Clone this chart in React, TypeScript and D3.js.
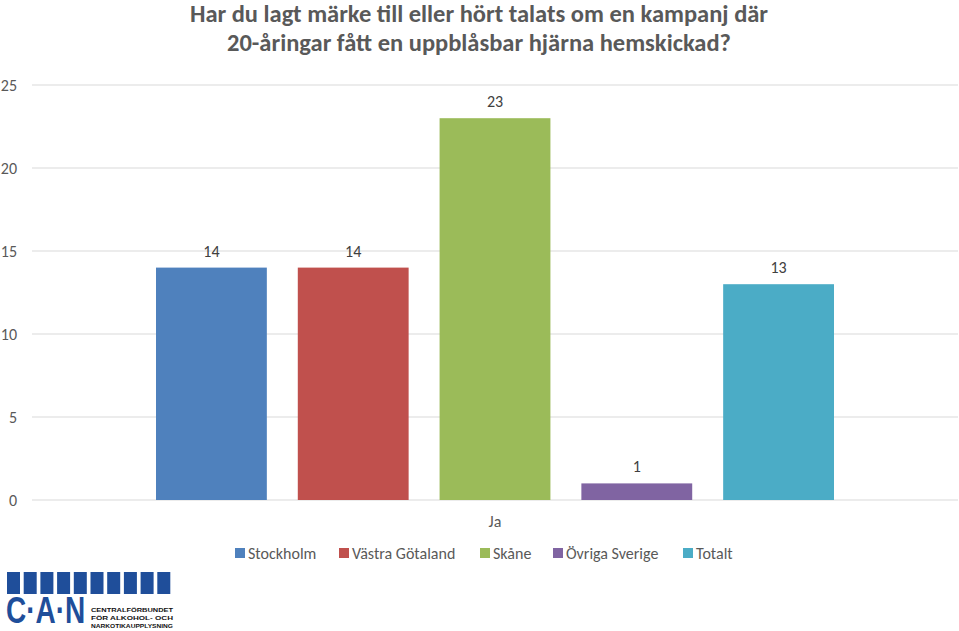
import React from "react";
import * as d3 from "d3";

const categories = ["Ja"];
const seriesNames = ["Stockholm", "Västra Götaland", "Skåne", "Övriga Sverige", "Totalt"];
const seriesValues = [14, 14, 23, 1, 13];
const seriesColors = ["#4f81bd", "#c0504d", "#9bbb59", "#8064a2", "#4bacc6"];
const yTicks = [0, 5, 10, 15, 20, 25];
const titleLines = [
  "Har du lagt märke till eller hört talats om en kampanj där",
  "20-åringar fått en uppblåsbar hjärna hemskickad?",
];
const logoLines = ["CENTRALFÖRBUNDET", "FÖR ALKOHOL- OCH", "NARKOTIKAUPPLYSNING"];

const W = 959;
const H = 631;
const font = "Carlito, Calibri, Lato, 'Open Sans', sans-serif";
const logoFont = "'Liberation Sans', Arial, sans-serif";

export default function App() {
  const x0 = d3.scaleBand().domain(categories).range([32, 958]);
  const inner = d3
    .scaleBand()
    .domain(seriesNames)
    .range([156, 834])
    .paddingInner(31 / 142)
    .paddingOuter(0);
  const y = d3.scaleLinear().domain([0, 25]).range([500, 85]);
  const legendStarts = [235, 339, 480, 553, 683];

  return (
    <svg width={W} height={H} style={{ position: "absolute", left: 0, top: 0, fontFamily: font }}>
      <rect width={W} height={H} fill="#fff" />
      {titleLines.map((t, i) => (
        <text key={i} x={479} y={22 + i * 29} textAnchor="middle" fontSize={24.5} fontWeight="bold" fill="#595959">
          {t}
        </text>
      ))}
      {yTicks.map((t) => (
        <g key={t}>
          <line x1={32} x2={958} y1={y(t)} y2={y(t)} stroke="#d9d9d9" strokeWidth={1} />
          <text x={17} y={y(t) + 6} textAnchor="end" fontSize={16} fill="#595959">
            {t}
          </text>
        </g>
      ))}
      {categories.map((c) => (
        <g key={c}>
          {seriesNames.map((s, i) => {
            const xx = inner(s) as number;
            const bw = inner.bandwidth();
            const v = seriesValues[i];
            return (
              <g key={s}>
                <rect x={xx} y={y(v)} width={bw} height={y(0) - y(v)} fill={seriesColors[i]} />
                <text x={xx + bw / 2} y={y(v) - 11} textAnchor="middle" fontSize={16} fill="#404040">
                  {v}
                </text>
              </g>
            );
          })}
          <text x={(x0(c) as number) + x0.bandwidth() / 2} y={527} textAnchor="middle" fontSize={16} fill="#595959">
            {c}
          </text>
        </g>
      ))}
      {seriesNames.map((s, i) => (
        <g key={s}>
          <rect x={legendStarts[i]} y={548} width={10} height={10} fill={seriesColors[i]} />
          <text x={legendStarts[i] + 13} y={559} fontSize={16} fill="#595959">
            {s}
          </text>
        </g>
      ))}
      <g>
        {d3.range(10).map((i) => (
          <rect key={i} x={7 + i * 16.7} y={572} width={13} height={22} fill="#1f4e9a" />
        ))}
        <text transform="translate(6,623) scale(1,1.3)" x={0} y={0} fontSize={28} fontWeight="bold" fill="#1f4e9a" fontFamily={logoFont}>
          C·A·N
        </text>
        {logoLines.map((l, i) => (
          <text key={l} x={91} y={612 + i * 8} fontSize={5.5} fontWeight="bold" fill="#111" fontFamily={logoFont} textLength={82} lengthAdjust="spacingAndGlyphs">
            {l}
          </text>
        ))}
      </g>
    </svg>
  );
}
